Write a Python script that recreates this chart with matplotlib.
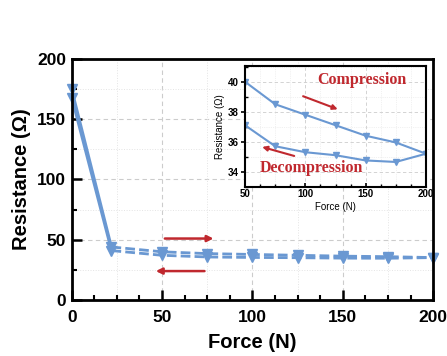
import matplotlib
matplotlib.use("Agg")
import matplotlib.pyplot as plt
from matplotlib.ticker import MultipleLocator

# data
force_main = [0, 22, 50, 75, 100, 125, 150, 175, 200]
res_comp_main = [175, 44, 40.0, 38.5, 37.8, 37.1, 36.4, 35.95, 35.2]
res_decomp_main = [168, 41, 37.1, 35.7, 35.3, 35.1, 34.75, 34.65, 35.2]

force_inset = [50, 75, 100, 125, 150, 175, 200]
res_comp_inset = [40.0, 38.5, 37.8, 37.1, 36.4, 35.95, 35.2]
res_decomp_inset = [37.1, 35.7, 35.3, 35.1, 34.75, 34.65, 35.2]

BLUE = "#6a98d2"
RED = "#c0282e"
SANS = "Liberation Sans"

plt.rcParams["font.family"] = SANS

fig = plt.figure(figsize=(4.47, 3.56), dpi=100)
ax = fig.add_axes([71.7 / 447, 56 / 356, 361.5 / 447, 241 / 356])

# main curves: solid first drop, dashed afterwards
for res in (res_comp_main, res_decomp_main):
    ax.plot(force_main[:2], res[:2], color=BLUE, lw=2, solid_capstyle="round")
    ax.plot(force_main[1:], res[1:], color=BLUE, lw=2, dashes=(3.5, 1.5))
    ax.plot(force_main, res, ls="none", marker="v", ms=7, color=BLUE, clip_on=False)

ax.set_xlim(0, 200)
ax.set_ylim(0, 200)
ax.xaxis.set_major_locator(MultipleLocator(50))
ax.xaxis.set_minor_locator(MultipleLocator(12.5))
ax.yaxis.set_major_locator(MultipleLocator(50))
ax.yaxis.set_minor_locator(MultipleLocator(25))

for v in (50, 100, 150):
    ax.axvline(v, color="#cccccc", lw=0.8, ls=(0, (4, 3)), zorder=0)
    ax.axhline(v, color="#cccccc", lw=0.8, ls=(0, (4, 3)), zorder=0)
for v in (25, 75, 125, 175):
    ax.axvline(v, color="#e4e4e4", lw=0.7, ls=":", zorder=0)
    ax.axhline(v, color="#e4e4e4", lw=0.7, ls=":", zorder=0)

for s in ax.spines.values():
    s.set_linewidth(2)
ax.tick_params(which="both", direction="in")
ax.tick_params(which="major", length=7, width=1.8, labelsize=12.5, pad=4)
ax.tick_params(axis="x", which="major", pad=7)
ax.tick_params(which="minor", length=3.5, width=1.5)
for lab in ax.get_xticklabels() + ax.get_yticklabels():
    lab.set_fontweight("bold")
ax.set_xlabel("Force (N)", fontsize=14.5, fontweight="bold", labelpad=6)
ax.set_ylabel("Resistance (Ω)", fontsize=14.5, fontweight="bold", labelpad=4)

# direction arrows
ax.annotate("", xy=(80, 51), xytext=(50, 51),
            arrowprops=dict(arrowstyle="-|>", color=RED, lw=1.8, mutation_scale=9))
ax.annotate("", xy=(45, 24), xytext=(75, 24),
            arrowprops=dict(arrowstyle="-|>", color=RED, lw=1.8, mutation_scale=9))

# inset
ins = fig.add_axes([245 / 447, 1 - 186.7 / 356, 181 / 447, 120.7 / 356])
ins.plot(force_inset, res_comp_inset, color=BLUE, lw=1.5, marker="v", ms=4)
ins.plot(force_inset, res_decomp_inset, color=BLUE, lw=1.5, marker="v", ms=4)
ins.set_xlim(50, 200)
ins.set_ylim(33, 41.05)
ins.xaxis.set_major_locator(MultipleLocator(50))
ins.xaxis.set_minor_locator(MultipleLocator(12.5))
ins.yaxis.set_major_locator(MultipleLocator(2))
ins.yaxis.set_minor_locator(MultipleLocator(1))
ins.grid(which="major", color="#cccccc", lw=0.6, ls=(0, (4, 3)))
ins.grid(which="minor", color="#e4e4e4", lw=0.5, ls=":")
ins.set_axisbelow(True)
for s in ins.spines.values():
    s.set_linewidth(1.5)
ins.tick_params(axis="x", which="both", direction="in")
ins.tick_params(axis="y", which="minor", direction="in")
ins.tick_params(which="major", length=3, width=1.2, labelsize=7, pad=1.5)
ins.tick_params(which="minor", length=2, width=1)
for lab in ins.get_xticklabels() + ins.get_yticklabels():
    lab.set_fontweight("bold")
ins.set_xlabel("Force (N)", fontsize=7, labelpad=2)
ins.set_ylabel("Resistance (Ω)", fontsize=7, labelpad=2)

ins.text(147, 40.1, "Compression", color=RED, fontsize=11.5, fontweight="bold",
         family="Liberation Serif", ha="center", va="center")
ins.text(105, 34.25, "Decompression", color=RED, fontsize=11.5, fontweight="bold",
         family="Liberation Serif", ha="center", va="center")
ins.annotate("", xy=(129, 38.1), xytext=(96, 39.1),
             arrowprops=dict(arrowstyle="-|>", color=RED, lw=1.5, mutation_scale=7))
ins.annotate("", xy=(62, 35.7), xytext=(93, 35.0),
             arrowprops=dict(arrowstyle="-|>", color=RED, lw=1.5, mutation_scale=7))

fig.savefig("out.png", dpi=100)
